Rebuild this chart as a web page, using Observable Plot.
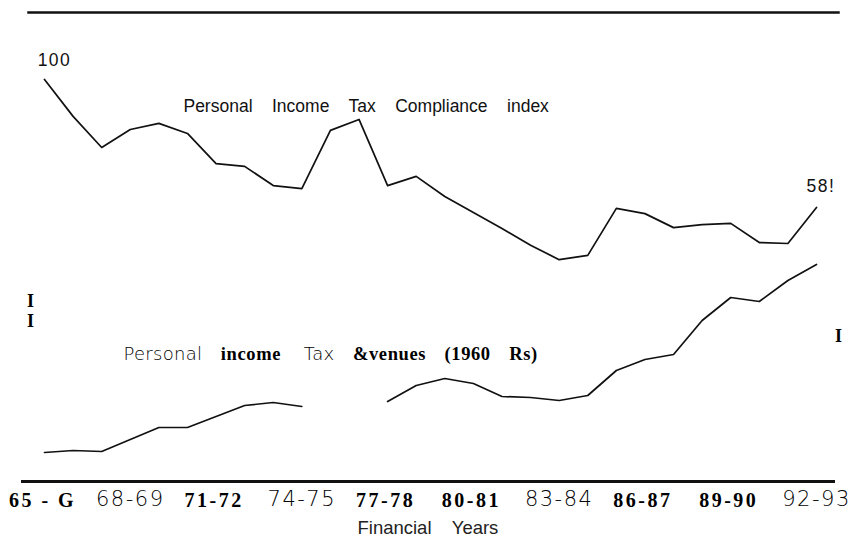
<!DOCTYPE html>
<html><head><meta charset="utf-8">
<script src="https://cdn.jsdelivr.net/npm/d3@7"></script>
<script src="https://cdn.jsdelivr.net/npm/@observablehq/plot@0.6"></script>
<style>
body{margin:0;background:#fff;}
#chart{position:relative;width:859px;height:544px;background:#fff;}
#chart svg{position:absolute;left:0;top:0;background:none;}
</style></head><body><div id="chart"></div>
<script>
// Financial years 1965-66 ... 1992-93 (start year)
const startYears = d3.range(65, 93);
// Personal Income Tax Compliance index (1965-66 = 100)
const complianceIndex = [100, 87.9, 77.7, 83.6, 85.6, 82.3, 72.4, 71.5, 65.2, 64.2,
  83.3, 86.9, 65.2, 68.2, 61.6, 56.4, 51.1, 45.6, 40.9, 42.3,
  57.7, 56.0, 51.4, 52.4, 52.8, 46.5, 46.2, 58.0];
// Personal income tax revenues (1960 Rs), arbitrary units; null = not legible
const revenues = [14.5, 15.5, 15, 21, 27, 27, 32.5, 38, 39.5, 37.5,
  null, null, 40, 48, 51.5, 49, 42.5, 42, 40.5, 43,
  55.5, 61, 63.5, 80.5, 92, 90, 100.5, 108.5];
// x tick labels (as printed)
const tickStarts = [65, 68, 71, 74, 77, 80, 83, 86, 89, 92];
const tickLabels = ["65 - G", "68-69", "71-72", "74-75", "77-78", "80-81", "83-84", "86-87", "89-90", "92-93"];
const revLabelParts = [["Personal", "thin"], ["income", "bold"], ["Tax", "thin"], ["&venues", "bold"], ["(1960", "bold"], ["Rs)", "bold"]];

const compData = startYears.map((yr, i) => ({yr, v: complianceIndex[i]}));
const revData = startYears.map((yr, i) => ({yr, v: revenues[i]}));
const ticks = tickStarts.map((yr, i) => ({yr, label: tickLabels[i]}));
const thinTicks = new Set(["68-69", "74-75", "83-84", "92-93"]);

const W = 859, H = 544;
const xScale = {type: "linear", domain: [65, 92], range: [44, 816]};
const sans = "Liberation Sans, Arial, sans-serif";
const serif = "Liberation Serif, Times New Roman, serif";
const thin = "DejaVu Sans, sans-serif";
const gap = "    ";

const p1 = Plot.plot({
  width: W, height: H,
  marginTop: 12, marginBottom: 63, marginLeft: 28, marginRight: 21,
  style: {background: "none", overflow: "visible"},
  x: {...xScale, axis: null},
  y: {domain: [0, 100], range: [79 + 100 * 3.048, 79], axis: null},
  marks: [
    Plot.frame({anchor: "top", stroke: "#111", strokeWidth: 2.5}),
    Plot.line(compData, {x: "yr", y: "v", stroke: "#111", strokeWidth: 1.7}),
    Plot.text([{t: "100", x: 64.76, y: 106.2}, {t: "58!", x: 91.65, y: 64.9}], {
      x: "x", y: "y", text: "t", textAnchor: "start", fontFamily: sans, fontSize: 17.5, fill: "#111", ariaDescription: "value-labels"
    }),
    Plot.text(["Personal" + gap + "Income" + gap + "Tax" + gap + "Compliance" + gap + "index"], {
      x: 69.86, y: 91.1, text: d => d, textAnchor: "start", fontFamily: sans, fontSize: 17.5, fill: "#111"
    }),
    Plot.text(ticks.filter(d => !thinTicks.has(d.label)), {
      x: "yr", text: "label", frameAnchor: "bottom", lineAnchor: "middle", dy: 19.5, dx: -2,
      fontFamily: serif, fontWeight: "bold", fontSize: 20, fill: "#000", ariaDescription: "bold-ticks"
    }),
    Plot.text(ticks.filter(d => thinTicks.has(d.label)), {
      x: "yr", text: "label", frameAnchor: "bottom", lineAnchor: "middle", dy: 18,
      fontFamily: thin, fontWeight: 200, fontSize: 21, fill: "#000", ariaDescription: "thin-ticks"
    }),
    Plot.text(["Financial" + gap + "Years"], {
      x: 78.41, text: d => d, frameAnchor: "bottom", lineAnchor: "middle", dy: 47,
      fontFamily: sans, fontSize: 18.5, fill: "#222"
    })
  ]
});

const p2 = Plot.plot({
  width: W, height: H,
  marginTop: 12, marginBottom: 63, marginLeft: 22, marginRight: 26,
  style: {background: "none", overflow: "visible"},
  x: {...xScale, axis: null},
  y: {domain: [0, 120], range: [481, 241], axis: null},
  marks: [
    Plot.frame({anchor: "bottom", stroke: "#111", strokeWidth: 3}),
    Plot.line(revData, {x: "yr", y: "v", stroke: "#111", strokeWidth: 1.7}),
    Plot.text([revLabelParts.map(d => d[0]).join(gap)], {
      x: 67.76, y: 63.5, text: d => d, textAnchor: "start", fontFamily: thin, fontSize: 18, fill: "#111", ariaDescription: "revenue-label"
    }),
    Plot.text([{t: "I\nI", x: 64.51, y: 85.5}, {t: "I", x: 92.77, y: 73}], {
      x: "x", y: "y", text: "t", fontFamily: serif, fontWeight: "bold", fontSize: 18, lineHeight: 1.1, fill: "#000"
    })
  ]
});

const chart = document.getElementById("chart");
chart.appendChild(p1);
chart.appendChild(p2);

// Letter spacing of the printed labels
const spacing = {"bold-ticks": 2.5, "thin-ticks": 1.5, "value-labels": 1.5};
for (const [label, ls] of Object.entries(spacing)) {
  d3.select(p1).selectAll(`g[aria-description="${label}"] text`)
    .attr("letter-spacing", ls).style("letter-spacing", ls + "px");
}

// Rebuild the revenue label with mixed fonts, as printed
const revText = d3.select(p2).select('g[aria-description="revenue-label"] text');
revText.text(null);
revLabelParts.forEach(([w, kind], k) => {
  const fam = kind === "bold" ? serif : thin;
  const wt = kind === "bold" ? "bold" : 200;
  const fs = kind === "bold" ? 18.5 : 18;
  if (k) revText.append("tspan").text(gap).attr("font-family", fam).attr("font-weight", wt).attr("font-size", fs);
  revText.append("tspan")
    .text(w)
    .attr("font-family", fam)
    .attr("font-weight", wt)
    .attr("font-size", fs)
    .attr("letter-spacing", kind === "bold" ? 0.6 : 0.3)
    .attr("fill", "#000");
});
</script></body></html>
